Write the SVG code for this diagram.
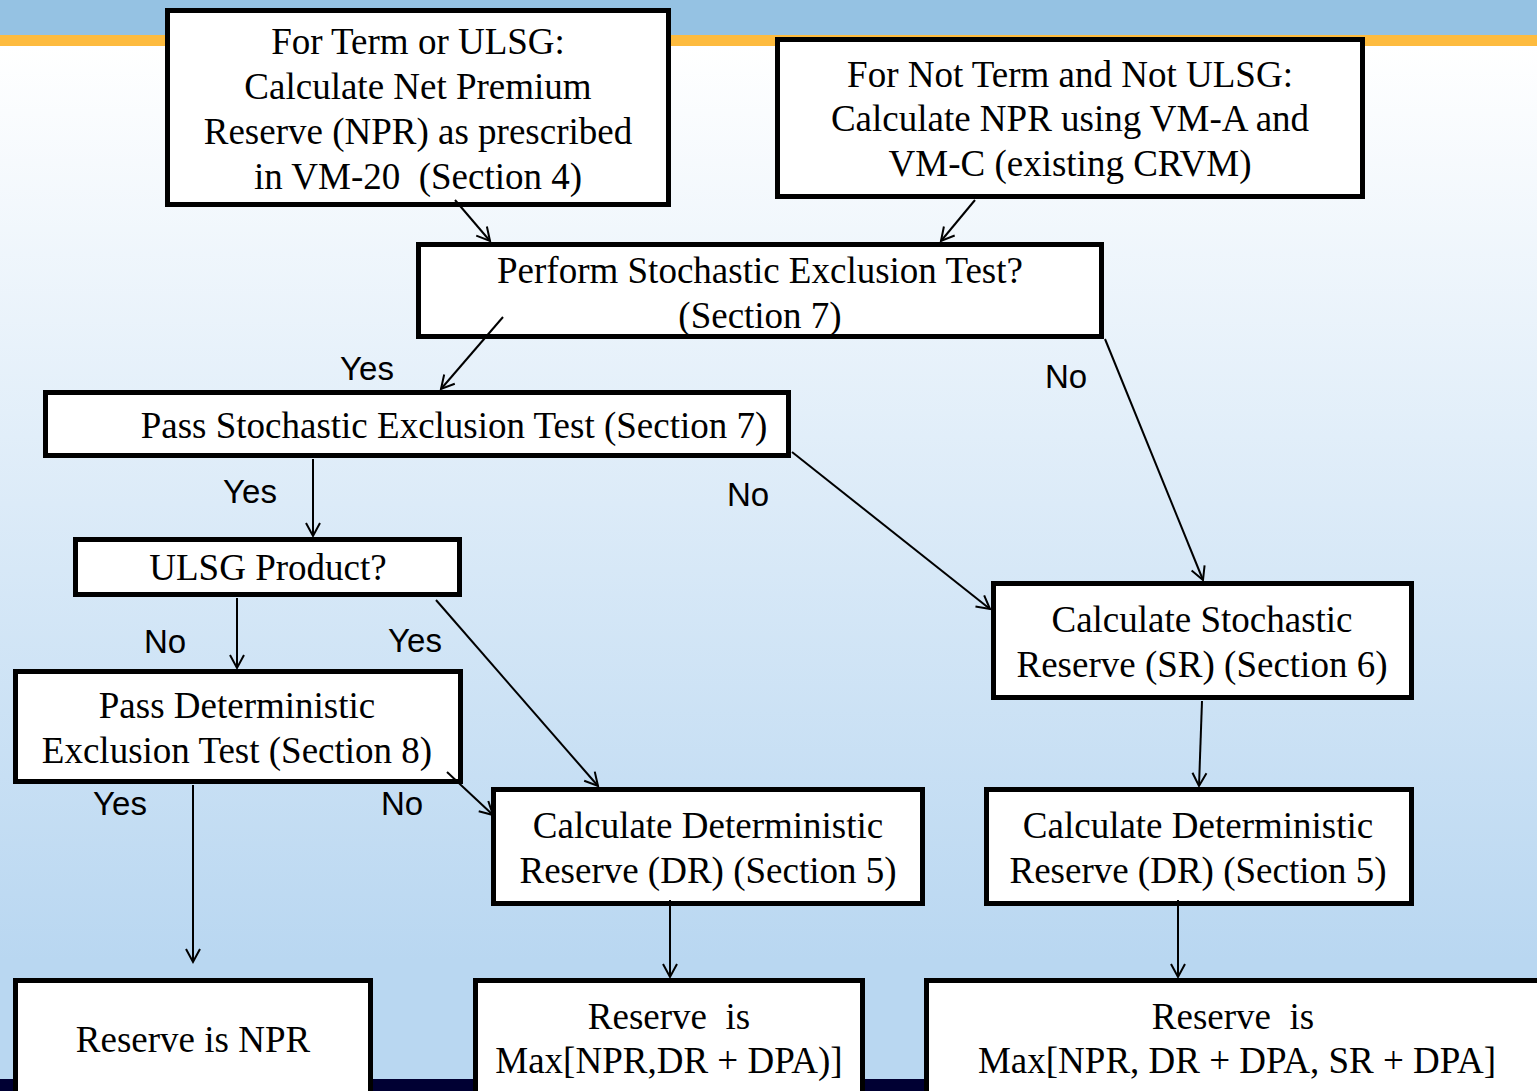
<svg xmlns="http://www.w3.org/2000/svg" width="1537" height="1091" viewBox="0 0 1537 1091">
<defs>
<linearGradient id="bg" gradientUnits="userSpaceOnUse" x1="0" y1="46" x2="0" y2="960">
<stop offset="0" stop-color="#FFFFFF"/>
<stop offset="1" stop-color="#B9D7F1"/>
</linearGradient>
<marker id="arr" markerUnits="userSpaceOnUse" markerWidth="30" markerHeight="30" refX="0" refY="0" viewBox="-15 -15 30 30" orient="auto" overflow="visible">
<path d="M-13,-7 L0,0 L-13,7" fill="none" stroke="#000" stroke-width="2"/>
</marker>
<style>
.box{fill:#fff;stroke:#000;stroke-width:5}
.t{font-family:"Liberation Serif","Times New Roman",serif;font-size:37px;fill:#000;text-anchor:middle;white-space:pre}
.lbl{font-family:"Liberation Sans",Arial,sans-serif;font-size:33px;fill:#000;text-anchor:middle}
.c{stroke:#000;stroke-width:2;fill:none;marker-end:url(#arr)}
</style>
</defs>
<rect x="0" y="0" width="1537" height="1091" fill="url(#bg)"/>
<rect x="0" y="0" width="1537" height="35" fill="#95C2E3"/>
<rect x="0" y="35" width="1537" height="11" fill="#FDBB3F"/>
<rect x="0" y="1079" width="1537" height="12" fill="#000033"/>

<g id="nodeA">
<rect class="box" x="167.5" y="10.5" width="501" height="194"/>
<text class="t" x="418" y="54">For Term or ULSG:</text>
<text class="t" x="418" y="99">Calculate Net Premium</text>
<text class="t" x="418" y="144">Reserve (NPR) as prescribed</text>
<text class="t" x="418" y="189" xml:space="preserve">in VM-20  (Section 4)</text>
</g>
<g id="nodeB">
<rect class="box" x="777.5" y="39.5" width="585" height="157"/>
<text class="t" x="1070" y="87">For Not Term and Not ULSG:</text>
<text class="t" x="1070" y="131">Calculate NPR using VM-A and</text>
<text class="t" x="1070" y="176">VM-C (existing CRVM)</text>
</g>
<g id="nodeC">
<rect class="box" x="418.5" y="244.5" width="683" height="92"/>
<text class="t" x="760" y="283">Perform Stochastic Exclusion Test?</text>
<text class="t" x="760" y="328">(Section 7)</text>
</g>
<g id="nodeD">
<rect class="box" x="45.5" y="392.5" width="743" height="63"/>
<text class="t" x="454" y="438">Pass Stochastic Exclusion Test (Section 7)</text>
</g>
<g id="nodeE">
<rect class="box" x="75.5" y="539.5" width="384" height="55"/>
<text class="t" x="268" y="580">ULSG Product?</text>
</g>
<g id="nodeF">
<rect class="box" x="15.5" y="671.5" width="445" height="110"/>
<text class="t" x="237" y="718">Pass Deterministic</text>
<text class="t" x="237" y="763">Exclusion Test (Section 8)</text>
</g>
<g id="nodeG">
<rect class="box" x="993.5" y="583.5" width="418" height="114"/>
<text class="t" x="1202" y="632">Calculate Stochastic</text>
<text class="t" x="1202" y="677">Reserve (SR) (Section 6)</text>
</g>
<g id="nodeH">
<rect class="box" x="493.5" y="789.5" width="429" height="114"/>
<text class="t" x="708" y="838">Calculate Deterministic</text>
<text class="t" x="708" y="883">Reserve (DR) (Section 5)</text>
</g>
<g id="nodeI">
<rect class="box" x="986.5" y="789.5" width="425" height="114"/>
<text class="t" x="1198" y="838">Calculate Deterministic</text>
<text class="t" x="1198" y="883">Reserve (DR) (Section 5)</text>
</g>
<g id="nodeJ">
<rect class="box" x="15.5" y="980.5" width="355" height="130"/>
<text class="t" x="193" y="1052">Reserve is NPR</text>
</g>
<g id="nodeK">
<rect class="box" x="475.5" y="980.5" width="387" height="130"/>
<text class="t" x="669" y="1029" xml:space="preserve">Reserve  is</text>
<text class="t" x="669" y="1073">Max[NPR,DR + DPA)]</text>
</g>
<g id="nodeL">
<rect class="box" x="926.5" y="980.5" width="640" height="130"/>
<text class="t" x="1233" y="1029" xml:space="preserve">Reserve  is</text>
<text class="t" x="1237" y="1073">Max[NPR, DR + DPA, SR + DPA]</text>
</g>

<g id="connectors">
<line class="c" x1="455" y1="200" x2="490" y2="241"/>
<line class="c" x1="975" y1="200" x2="941" y2="241"/>
<line class="c" x1="503" y1="317" x2="441" y2="389"/>
<line class="c" x1="1105" y1="339" x2="1203" y2="580"/>
<line class="c" x1="313" y1="459" x2="313" y2="536"/>
<line class="c" x1="792" y1="452" x2="990" y2="609"/>
<line class="c" x1="237" y1="598" x2="237" y2="668"/>
<line class="c" x1="436" y1="600" x2="598" y2="786"/>
<line class="c" x1="447" y1="772" x2="493" y2="815"/>
<line class="c" x1="193" y1="785" x2="193" y2="962"/>
<line class="c" x1="1202" y1="701" x2="1199" y2="786"/>
<line class="c" x1="670" y1="900" x2="670" y2="977"/>
<line class="c" x1="1178" y1="900" x2="1178" y2="977"/>
<text class="lbl" x="367" y="380">Yes</text>
<text class="lbl" x="1066" y="388">No</text>
<text class="lbl" x="250" y="503">Yes</text>
<text class="lbl" x="748" y="506">No</text>
<text class="lbl" x="165" y="653">No</text>
<text class="lbl" x="415" y="652">Yes</text>
<text class="lbl" x="402" y="815">No</text>
<text class="lbl" x="120" y="815">Yes</text>
</g>
</svg>
